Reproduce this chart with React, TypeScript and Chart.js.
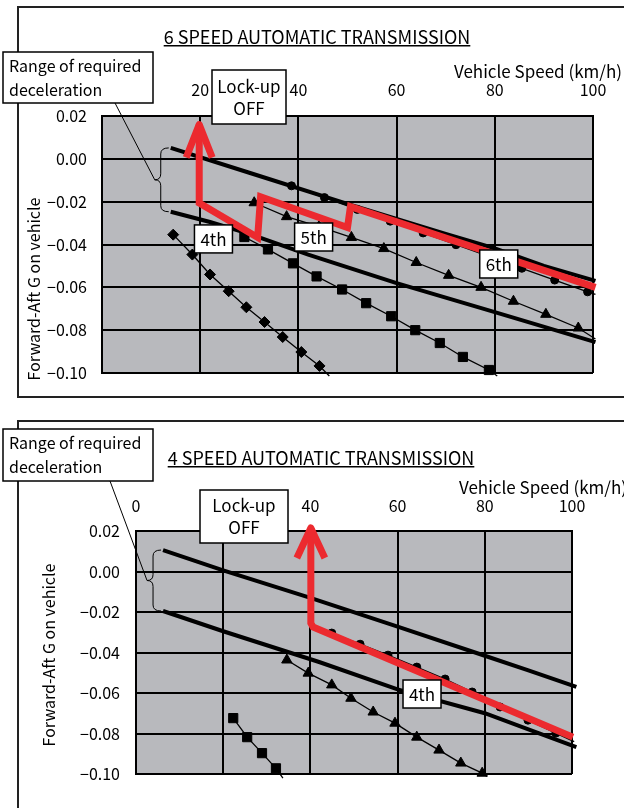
import React, { useEffect, useRef } from 'react';
import { Chart, registerables } from 'chart.js';

Chart.register(...registerables);

const FONT = "'Noto Sans CJK JP', 'Noto Sans', 'DejaVu Sans', sans-serif";
const RED = '#ec2a2f';
const PLOT_BG = '#b8b9bd';

// Axis ranges / ticks
const SPEED_MIN = 0;
const SPEED_MAX = 100;
const SPEED_STEP = 20;
const G_MIN = -0.1;
const G_MAX = 0.02;
const G_STEP = 0.02;

// ---------- 6 SPEED AUTOMATIC TRANSMISSION ----------
const S6_UPPER_SPEED = [14.0, 30, 50, 70, 80, 90, 100.5];
const S6_UPPER_G = [0.0051, -0.0065, -0.021, -0.035, -0.0418, -0.05, -0.057];
const S6_LOWER_SPEED = [14.0, 22, 30, 42, 60, 80, 100.5];
const S6_LOWER_G = [-0.0247, -0.0295, -0.035, -0.0447, -0.058, -0.0716, -0.0856];
const S6_6TH_SPEED = [38.6, 45.3, 52.0, 58.7, 65.4, 72.1, 78.8, 85.5, 92.2, 98.9, 100.5];
const S6_6TH_G = [-0.0126, -0.0181, -0.0236, -0.0291, -0.0346, -0.0401, -0.0456, -0.0511, -0.0566, -0.0621, -0.0633];
const S6_5TH_SPEED = [31.0, 37.6, 44.2, 50.8, 57.4, 64.0, 70.6, 77.2, 83.8, 90.4, 97.0, 100.5];
const S6_5TH_G = [-0.0205, -0.027, -0.0316, -0.0367, -0.0419, -0.0484, -0.0544, -0.06, -0.0665, -0.0726, -0.079, -0.0841];
const S6_4TH_SPEED = [29.0, 33.8, 38.9, 43.7, 48.9, 53.8, 58.9, 63.8, 68.8, 73.5, 78.8, 80.5];
const S6_4TH_G = [-0.0365, -0.0423, -0.0488, -0.0549, -0.061, -0.0674, -0.0735, -0.08, -0.086, -0.0925, -0.0986, -0.1014];
const S6_3RD_SPEED = [14.5, 18.4, 22.0, 25.8, 29.4, 33.1, 36.8, 40.6, 44.3, 46.3];
const S6_3RD_G = [-0.0354, -0.0447, -0.054, -0.0618, -0.0693, -0.0762, -0.0832, -0.0902, -0.0967, -0.1014];
const S6_SHIFT_SPEED = [19.8, 19.8, 31.7, 32.3, 50.0, 50.6, 100.5];
const S6_SHIFT_G = [0.016, -0.0206, -0.0367, -0.0177, -0.0321, -0.0223, -0.06];
const S6_GEAR_LABELS = ['4th', '5th', '6th'];
const S6_GEAR_LABEL_SPEED = [22.7, 43.1, 80.8];
const S6_GEAR_LABEL_G = [-0.0374, -0.0365, -0.0491];

// ---------- 4 SPEED AUTOMATIC TRANSMISSION ----------
const S4_UPPER_SPEED = [6.2, 20, 40, 60, 80, 90, 101];
const S4_UPPER_G = [0.0106, 0.0006, -0.013, -0.0272, -0.0416, -0.0488, -0.057];
const S4_LOWER_SPEED = [6.2, 20, 42, 60, 80, 90, 101];
const S4_LOWER_G = [-0.0195, -0.0295, -0.0447, -0.0582, -0.07, -0.078, -0.0867];
const S4_4TH_SPEED = [44.9, 51.4, 57.8, 64.4, 70.9, 77.1, 83.5, 89.9, 96.3, 100.5];
const S4_4TH_G = [-0.0304, -0.0359, -0.0413, -0.0472, -0.0531, -0.0595, -0.0669, -0.0734, -0.0798, -0.084];
const S4_3RD_SPEED = [34.6, 39.5, 44.9, 49.3, 54.4, 59.4, 64.4, 69.5, 74.5, 79.4, 80.5];
const S4_3RD_G = [-0.0437, -0.0502, -0.056, -0.0626, -0.0694, -0.0749, -0.0818, -0.0882, -0.0946, -0.0996, -0.1012];
const S4_2ND_SPEED = [22.3, 25.5, 28.9, 32.1, 33.7];
const S4_2ND_G = [-0.0724, -0.0818, -0.0897, -0.0972, -0.102];
const S4_SHIFT_SPEED = [40.1, 40.1, 40.6, 100.2];
const S4_SHIFT_G = [0.0215, -0.0255, -0.0274, -0.0818];
const S4_GEAR_LABELS = ['4th'];
const S4_GEAR_LABEL_SPEED = [65.6];
const S4_GEAR_LABEL_G = [-0.0605];

const pts = (xs: number[], ys: number[]) => xs.map((x, i) => ({ x, y: ys[i] }));

function rangeLine(xs: number[], ys: number[]) {
  return {
    data: pts(xs, ys), showLine: true, borderColor: '#000', borderWidth: 4,
    pointRadius: 0, order: 3, clip: 6, borderCapStyle: 'butt',
  };
}
function markerLine(xs: number[], ys: number[], style: string, r: number) {
  const last = xs.length - 1;
  return {
    data: pts(xs, ys), showLine: true, borderColor: '#000', borderWidth: 1.3,
    pointStyle: style, pointRadius: (c: any) => (c.dataIndex === last ? 0 : r),
    pointBackgroundColor: '#000', pointBorderColor: '#000', pointBorderWidth: 1,
    order: 2, clip: 8,
  };
}
function shiftLine(xs: number[], ys: number[]) {
  return {
    data: pts(xs, ys), showLine: true, borderColor: RED, borderWidth: 7,
    pointRadius: 0, order: 1, clip: false, borderJoinStyle: 'miter',
  };
}

type Spec = {
  W: number; H: number;
  area: { left: number; top: number; right: number; bottom: number };
  yTickPad: number; xTickPad: number;
  frame: { x: number; y: number; w: number; h: number };
  title: string; titleX: number; titleY: number;
  speedTitleRight: number; speedTitleY: number;
  yTitleX: number; yTitleY: number;
  rangeBox: { x: number; y: number; w: number; h: number; l1: number; l2: number };
  leaderFrom: { x: number; y: number };
  lockBox: { x: number; y: number; w: number; h: number; l1: number; l2: number };
  arrow: { dx: number; dy: number };
  upper: [number[], number[]]; lower: [number[], number[]];
  shift: [number[], number[]];
  labels: [string[], number[], number[]];
  datasets: any[];
};

function boxRect(ctx: CanvasRenderingContext2D, x: number, y: number, w: number, h: number) {
  ctx.fillStyle = '#fff';
  ctx.fillRect(x, y, w, h);
  ctx.strokeStyle = '#000';
  ctx.lineWidth = 1.5;
  ctx.strokeRect(x, y, w, h);
}

function decor(spec: Spec) {
  return {
    id: 'decor',
    beforeDraw(chart: any) {
      const { ctx, chartArea: a } = chart;
      ctx.save();
      ctx.fillStyle = PLOT_BG;
      ctx.fillRect(a.left, a.top, a.right - a.left, a.bottom - a.top);
      ctx.restore();
    },
    afterDatasetsDraw(chart: any) {
      const { ctx } = chart;
      const xs = chart.scales.x, ys = chart.scales.y;
      const tx = xs.getPixelForValue(spec.shift[0][0]);
      const ty = ys.getPixelForValue(spec.shift[1][0]);
      ctx.save();
      ctx.strokeStyle = RED;
      ctx.lineWidth = 7;
      ctx.lineJoin = 'round';
      ctx.lineCap = 'butt';
      ctx.beginPath();
      ctx.moveTo(tx - spec.arrow.dx, ty + spec.arrow.dy);
      ctx.lineTo(tx, ty);
      ctx.lineTo(tx + spec.arrow.dx, ty + spec.arrow.dy);
      ctx.stroke();
      ctx.restore();
    },
    afterDraw(chart: any) {
      const { ctx } = chart;
      const xs = chart.scales.x, ys = chart.scales.y;
      ctx.save();
      // frame
      ctx.strokeStyle = '#222';
      ctx.lineWidth = 2;
      ctx.strokeRect(spec.frame.x, spec.frame.y, spec.frame.w, spec.frame.h);

      ctx.fillStyle = '#000';
      ctx.textBaseline = 'middle';
      // title underlined
      ctx.font = `18px ${FONT}`;
      ctx.textAlign = 'center';
      ctx.fillText(spec.title, spec.titleX, spec.titleY);
      const tw = ctx.measureText(spec.title).width;
      ctx.fillRect(spec.titleX - tw / 2, spec.titleY + 8, tw, 1.5);

      // speed axis title
      ctx.font = `17px ${FONT}`;
      ctx.textAlign = 'right';
      ctx.fillText('Vehicle Speed (km/h)', spec.speedTitleRight, spec.speedTitleY);

      // y title
      ctx.save();
      ctx.translate(spec.yTitleX, spec.yTitleY);
      ctx.rotate(-Math.PI / 2);
      ctx.textAlign = 'center';
      ctx.font = `16px ${FONT}`;
      ctx.fillText('Forward-Aft G on vehicle', 0, 0);
      ctx.restore();

      // brace
      const sx = Math.min(xs.getPixelForValue(spec.upper[0][0]), xs.getPixelForValue(spec.lower[0][0]));
      const top = ys.getPixelForValue(spec.upper[1][0]);
      const bot = ys.getPixelForValue(spec.lower[1][0]);
      const bx = sx - 10;
      const mid = (top + bot) / 2;
      const w = 6;
      ctx.strokeStyle = '#000';
      ctx.lineWidth = 1;
      ctx.beginPath();
      ctx.moveTo(bx + 8, top);
      ctx.quadraticCurveTo(bx, top, bx, top + w);
      ctx.lineTo(bx, mid - w);
      ctx.quadraticCurveTo(bx, mid, bx - w, mid);
      ctx.quadraticCurveTo(bx, mid, bx, mid + w);
      ctx.lineTo(bx, bot - w);
      ctx.quadraticCurveTo(bx, bot, bx + 8, bot);
      ctx.stroke();
      // leader
      ctx.beginPath();
      ctx.moveTo(spec.leaderFrom.x, spec.leaderFrom.y);
      ctx.lineTo(bx - w, mid);
      ctx.stroke();

      // range box
      const rb = spec.rangeBox;
      boxRect(ctx, rb.x, rb.y, rb.w, rb.h);
      ctx.fillStyle = '#000';
      ctx.font = `16px ${FONT}`;
      ctx.textAlign = 'left';
      ctx.fillText('Range of required', rb.x + 6, rb.y + rb.l1);
      ctx.fillText('deceleration', rb.x + 6, rb.y + rb.l2);

      // lock-up box
      const lb = spec.lockBox;
      boxRect(ctx, lb.x, lb.y, lb.w, lb.h);
      ctx.fillStyle = '#000';
      ctx.textAlign = 'center';
      ctx.font = `17px ${FONT}`;
      ctx.fillText('Lock-up', lb.x + lb.w / 2, lb.y + lb.l1);
      ctx.fillText('OFF', lb.x + lb.w / 2, lb.y + lb.l2);

      // gear labels
      const [txt, gs, gg] = spec.labels;
      txt.forEach((t, i) => {
        const cx = xs.getPixelForValue(gs[i]);
        const cy = ys.getPixelForValue(gg[i]);
        boxRect(ctx, cx - 19, cy - 14, 38, 28);
        ctx.fillStyle = '#000';
        ctx.textAlign = 'center';
        ctx.font = `17px ${FONT}`;
        ctx.fillText(t, cx, cy + 1);
      });
      ctx.restore();
    },
  };
}

function makeConfig(spec: Spec): any {
  const Y_W = 70, X_H = 40;
  const tickFont = { size: 16, family: FONT };
  return {
    type: 'scatter',
    data: { datasets: spec.datasets },
    plugins: [decor(spec)],
    options: {
      animation: false,
      responsive: false,
      devicePixelRatio: 1,
      events: [],
      layout: {
        padding: {
          left: spec.area.left - Y_W,
          top: spec.area.top - X_H,
          right: spec.W - spec.area.right,
          bottom: spec.H - spec.area.bottom,
        },
      },
      plugins: { legend: { display: false }, tooltip: { enabled: false }, title: { display: false } },
      scales: {
        x: {
          type: 'linear', position: 'top', min: SPEED_MIN, max: SPEED_MAX,
          ticks: { stepSize: SPEED_STEP, color: '#000', padding: spec.xTickPad, font: tickFont, maxRotation: 0, autoSkip: false, callback: (v: any) => String(v) },
          grid: { color: '#000', lineWidth: 2, drawTicks: false },
          border: { color: '#000', width: 2 },
          afterFit: (s: any) => { s.height = X_H; },
        },
        y: {
          type: 'linear', min: G_MIN, max: G_MAX,
          ticks: {
            stepSize: G_STEP, color: '#000', padding: spec.yTickPad, font: tickFont, autoSkip: false,
            callback: (v: any) => { const n = Number(v); return (n < -1e-9 ? '\u2212' : '') + Math.abs(n).toFixed(2); },
          },
          grid: { color: '#000', lineWidth: 2, drawTicks: false },
          border: { color: '#000', width: 2 },
          afterFit: (s: any) => { s.width = Y_W; },
        },
      },
    },
  };
}

const TOP_SPEC: Spec = {
  W: 624, H: 410,
  area: { left: 102, top: 116, right: 593, bottom: 373 },
  yTickPad: 15, xTickPad: 16,
  frame: { x: 18, y: 7, w: 700, h: 390 },
  title: '6 SPEED AUTOMATIC TRANSMISSION', titleX: 317, titleY: 37,
  speedTitleRight: 622, speedTitleY: 72,
  yTitleX: 34, yTitleY: 289,
  rangeBox: { x: 3, y: 52, w: 150, h: 51, l1: 13.5, l2: 37.5 },
  leaderFrom: { x: 115, y: 103 },
  lockBox: { x: 212, y: 70, w: 74, h: 54, l1: 17, l2: 39 },
  arrow: { dx: 13, dy: 33 },
  upper: [S6_UPPER_SPEED, S6_UPPER_G],
  lower: [S6_LOWER_SPEED, S6_LOWER_G],
  shift: [S6_SHIFT_SPEED, S6_SHIFT_G],
  labels: [S6_GEAR_LABELS, S6_GEAR_LABEL_SPEED, S6_GEAR_LABEL_G],
  datasets: [
    shiftLine(S6_SHIFT_SPEED, S6_SHIFT_G),
    markerLine(S6_6TH_SPEED, S6_6TH_G, 'circle', 4),
    markerLine(S6_5TH_SPEED, S6_5TH_G, 'triangle', 6),
    markerLine(S6_4TH_SPEED, S6_4TH_G, 'rect', 6.5),
    markerLine(S6_3RD_SPEED, S6_3RD_G, 'rectRot', 5.5),
    rangeLine(S6_UPPER_SPEED, S6_UPPER_G),
    rangeLine(S6_LOWER_SPEED, S6_LOWER_G),
  ],
};

const BOTTOM_SPEC: Spec = {
  W: 624, H: 398,
  area: { left: 136, top: 121, right: 572, bottom: 364 },
  yTickPad: 16, xTickPad: 15,
  frame: { x: 18, y: 11, w: 700, h: 500 },
  title: '4 SPEED AUTOMATIC TRANSMISSION', titleX: 321, titleY: 48,
  speedTitleRight: 627, speedTitleY: 78,
  yTitleX: 49, yTitleY: 245,
  rangeBox: { x: 3, y: 19, w: 150, h: 52, l1: 14, l2: 38 },
  leaderFrom: { x: 110, y: 71 },
  lockBox: { x: 200, y: 80, w: 88, h: 53, l1: 16, l2: 38 },
  arrow: { dx: 14, dy: 30 },
  upper: [S4_UPPER_SPEED, S4_UPPER_G],
  lower: [S4_LOWER_SPEED, S4_LOWER_G],
  shift: [S4_SHIFT_SPEED, S4_SHIFT_G],
  labels: [S4_GEAR_LABELS, S4_GEAR_LABEL_SPEED, S4_GEAR_LABEL_G],
  datasets: [
    shiftLine(S4_SHIFT_SPEED, S4_SHIFT_G),
    markerLine(S4_4TH_SPEED, S4_4TH_G, 'circle', 4),
    markerLine(S4_3RD_SPEED, S4_3RD_G, 'triangle', 6),
    markerLine(S4_2ND_SPEED, S4_2ND_G, 'rect', 6.5),
    rangeLine(S4_UPPER_SPEED, S4_UPPER_G),
    rangeLine(S4_LOWER_SPEED, S4_LOWER_G),
  ],
};

function ChartCanvas({ spec, top }: { spec: Spec; top: number }) {
  const ref = useRef<HTMLCanvasElement | null>(null);
  useEffect(() => {
    if (!ref.current) return;
    const chart = new Chart(ref.current, makeConfig(spec));
    return () => chart.destroy();
  }, [spec]);
  return (
    <canvas
      ref={ref}
      width={spec.W}
      height={spec.H}
      style={{ position: 'absolute', left: 0, top, width: spec.W, height: spec.H, display: 'block' }}
    />
  );
}

export default function App() {
  return (
    <div style={{ position: 'absolute', left: 0, top: 0, width: 624, height: 808, background: '#fff', overflow: 'hidden' }}>
      <ChartCanvas spec={TOP_SPEC} top={0} />
      <ChartCanvas spec={BOTTOM_SPEC} top={410} />
    </div>
  );
}
